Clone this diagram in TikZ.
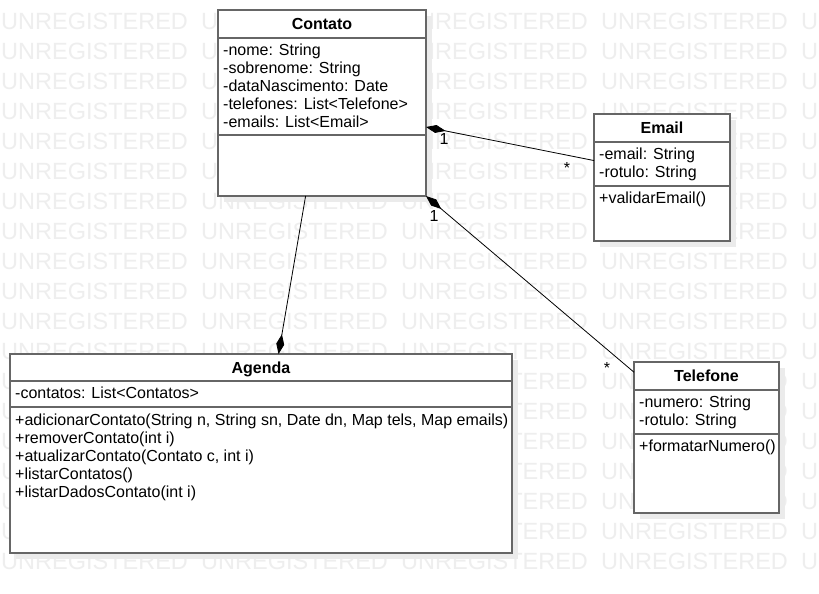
\documentclass[tikz,border=0pt]{standalone}
\usepackage{fontspec}
\setmainfont{Liberation Sans}
\usetikzlibrary{arrows.meta,shadows}

\definecolor{boxgray}{HTML}{666666}
\definecolor{wmgray}{HTML}{EEEEEE}

\tikzset{
  watermark/.style={anchor=west, inner sep=0pt, text=wmgray, font=\fontsize{23.5}{23.5}\selectfont},
  classbox/.style={draw=boxgray, line width=1.5pt, fill=white, anchor=north west, inner sep=0pt, outer sep=0pt,
    drop shadow={shadow xshift=6pt, shadow yshift=-6pt, fill=black!8, opacity=1}},
  sepline/.style={draw=boxgray, line width=1.5pt},
  classname/.style={anchor=base, inner sep=0pt, font=\fontsize{16}{18}\selectfont\bfseries},
  member/.style={anchor=base west, inner sep=0pt, font=\fontsize{16}{18}\selectfont},
  mult/.style={anchor=base, inner sep=0pt, font=\fontsize{16}{18}\selectfont},
  composition/.style={-{Diamond[length=20pt,width=8pt]}, line width=0.8pt}
}

\begin{document}
\begin{tikzpicture}[x=1pt,y=-1pt]
	\useasboundingbox[fill=white] (0,0) rectangle (819,594);

	% watermark
	\foreach \r in {0,...,18}
		\foreach \c in {0,...,4}
			\node[watermark] (wm-\r-\c) at (\c*200+1,21+\r*30) {UNREGISTERED};

	% Contato
	\node[classbox, minimum width=208pt, minimum height=186pt] (contato) at (218,10) {};
	\draw[sepline] (218,38) -- (426,38);
	\draw[sepline] (218,135) -- (426,135);
	\node[classname] (contatoname) at (322,30) {Contato};
	\node[member] (contato1) at (223,55.5) {-nome: String};
	\node[member] (contato2) at (223,73.5) {-sobrenome: String};
	\node[member] (contato3) at (223,91.5) {-dataNascimento: Date};
	\node[member] (contato4) at (223,109.5) {-telefones: List<Telefone>};
	\node[member] (contato5) at (223,127.5) {-emails: List<Email>};

	% Email
	\node[classbox, minimum width=136pt, minimum height=127pt] (email) at (594,114) {};
	\draw[sepline] (594,142) -- (730,142);
	\draw[sepline] (594,186) -- (730,186);
	\node[classname] (emailname) at (662,133.5) {Email};
	\node[member] (email1) at (599,159.5) {-email: String};
	\node[member] (email2) at (599,177.5) {-rotulo: String};
	\node[member] (email3) at (599,203.5) {+validarEmail()};

	% Telefone
	\node[classbox, minimum width=145pt, minimum height=151pt] (telefone) at (634,362) {};
	\draw[sepline] (634,390) -- (779,390);
	\draw[sepline] (634,434) -- (779,434);
	\node[classname] (telefonename) at (706.5,381) {Telefone};
	\node[member] (telefone1) at (639,407) {-numero: String};
	\node[member] (telefone2) at (639,425) {-rotulo: String};
	\node[member] (telefone3) at (639,451.5) {+formatarNumero()};

	% Agenda
	\node[classbox, minimum width=502pt, minimum height=199pt] (agenda) at (10,354) {};
	\draw[sepline] (10,381) -- (512,381);
	\draw[sepline] (10,407) -- (512,407);
	\node[classname] (agendaname) at (261,373.5) {Agenda};
	\node[member] (agenda1) at (15,398.5) {-contatos: List<Contatos>};
	\node[member] (agenda2) at (15,425) {+adicionarContato(String n, String sn, Date dn, Map tels, Map emails)};
	\node[member] (agenda3) at (15,443) {+removerContato(int i)};
	\node[member] (agenda4) at (15,461) {+atualizarContato(Contato c, int i)};
	\node[member] (agenda5) at (15,479) {+listarContatos()};
	\node[member] (agenda6) at (15,497) {+listarDadosContato(int i)};

	% compositions
	\draw[composition] (email.166) -- (contato.-13);
	\draw[composition] (telefone.138) -- (contato.south east);
	\draw[composition] (contato.-100) -- (agenda.80);

	\node[mult] (m1) at (444,144.5) {1};
	\node[mult] (m2) at (567,173) {*};
	\node[mult] (m3) at (434,221) {1};
	\node[mult] (m4) at (607,373.5) {*};
\end{tikzpicture}
\end{document}
